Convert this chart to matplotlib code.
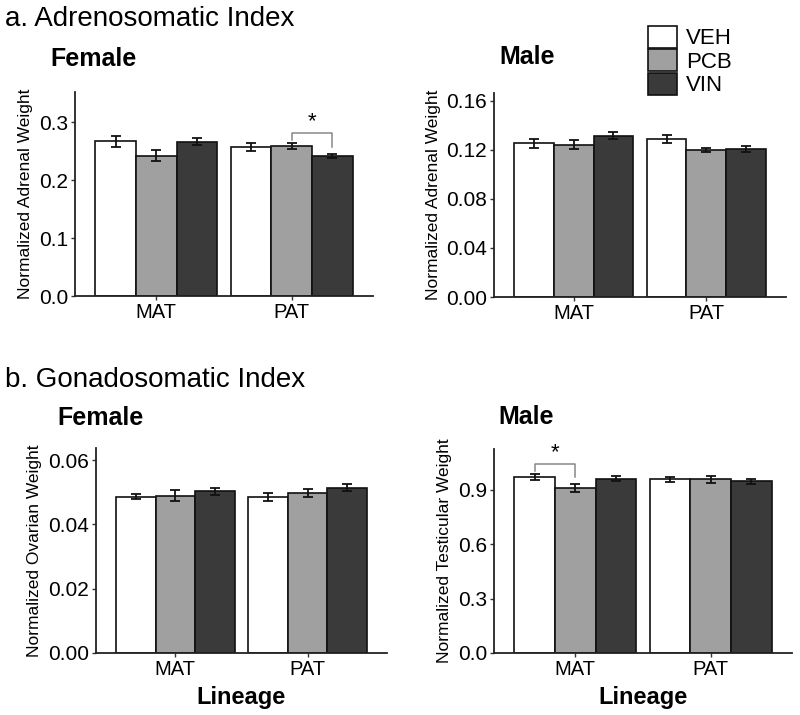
import matplotlib
matplotlib.use('Agg')
import matplotlib.pyplot as plt
import numpy as np

plt.rcParams['font.family'] = ['Liberation Sans', 'DejaVu Sans']

# данные
lineages = ['MAT', 'PAT']
treatments = ['VEH', 'PCB', 'VIN']
colors = ['#ffffff', '#a0a0a0', '#3a3a3a']

adrenal_female = [[0.267, 0.242, 0.266], [0.2575, 0.2586, 0.2414]]
adrenal_female_se = [[0.0095, 0.0095, 0.0058], [0.007, 0.005, 0.0037]]
adrenal_male = [[0.1253, 0.1244, 0.1315], [0.1288, 0.1198, 0.1206]]
adrenal_male_se = [[0.0034, 0.0034, 0.0029], [0.0033, 0.0018, 0.0024]]
ovarian = [[0.0487, 0.0490, 0.0503], [0.0486, 0.0497, 0.0515]]
ovarian_se = [[0.0008, 0.0017, 0.0012], [0.0012, 0.0012, 0.0011]]
testis = [[0.970, 0.909, 0.961], [0.957, 0.957, 0.946]]
testis_se = [[0.017, 0.021, 0.013], [0.013, 0.018, 0.015]]

fig = plt.figure(figsize=(8, 7.15), dpi=100)
W, H = 800, 715

def add_ax(l, r, b, t):
    return fig.add_axes([l / W, 1 - b / H, (r - l) / W, (b - t) / H])

def draw(ax, vals, ses, ymax, yticks, ylabel, sig=None, xlabel=False):
    vals = np.array(vals)
    ses = np.array(ses)
    xs = np.arange(1, len(lineages) + 1)
    w = 0.3
    for i, tr in enumerate(treatments):
        pos = xs + (i - 1) * w
        ax.bar(pos, vals[:, i], w, color=colors[i], edgecolor='#111111',
               linewidth=1.2, label=tr, zorder=2)
        ax.errorbar(pos, vals[:, i], yerr=ses[:, i], fmt='none', ecolor='#111111',
                    elinewidth=1.3, capsize=3.5, capthick=1.3, zorder=3)
    if sig is not None:  # скобка значимости
        g, a, b = sig
        xa = xs[g] + (a - 1) * w
        xb = xs[g] + (b - 1) * w
        ta = vals[g, a] + ses[g, a]
        tb = vals[g, b] + ses[g, b]
        top = max(ta, tb) + 0.05 * ymax
        ax.plot([xa, xa, xb, xb], [ta + 0.017 * ymax, top, top, tb + 0.035 * ymax],
                color='#888888', lw=1.1, zorder=4)
        ax.text((xa + xb) / 2, top + 0.005 * ymax, '*', ha='center', va='bottom',
                fontsize=16)
    ax.set_xlim(0.4, 2.6)
    ax.set_ylim(0, ymax)
    ax.set_xticks(xs)
    ax.set_xticklabels(lineages, fontsize=14.5)
    ax.set_yticks(yticks)
    ax.set_ylabel(ylabel, fontsize=12.5, labelpad=4)
    if xlabel:
        ax.set_xlabel('Lineage', fontsize=17, fontweight='bold', labelpad=5)
    for s in ['top', 'right']:
        ax.spines[s].set_visible(False)
    for s in ['left', 'bottom']:
        ax.spines[s].set_linewidth(1.3)
        ax.spines[s].set_color('#222222')
    ax.tick_params(length=3, width=1, color='#333333', pad=2)
    ax.tick_params(axis='y', labelsize=15)

ax1 = add_ax(75, 373, 296, 92)
draw(ax1, adrenal_female, adrenal_female_se, 0.352, [0, 0.1, 0.2, 0.3],
     'Normalized Adrenal Weight', sig=(1, 1, 2))
ax1.set_yticklabels(['0.0', '0.1', '0.2', '0.3'])

ax2 = add_ax(494, 786, 297, 93)
draw(ax2, adrenal_male, adrenal_male_se, 0.1665, [0, 0.04, 0.08, 0.12, 0.16],
     'Normalized Adrenal Weight')
ax2.set_yticklabels(['0.00', '0.04', '0.08', '0.12', '0.16'])

ax3 = add_ax(96, 387, 653, 448)
draw(ax3, ovarian, ovarian_se, 0.0638, [0, 0.02, 0.04, 0.06],
     'Normalized Ovarian Weight', xlabel=True)
ax3.set_yticklabels(['0.00', '0.02', '0.04', '0.06'])

ax4 = add_ax(494, 792, 653, 449)
draw(ax4, testis, testis_se, 1.125, [0, 0.3, 0.6, 0.9],
     'Normalized Testicular Weight', sig=(0, 0, 1), xlabel=True)
ax4.set_yticklabels(['0.0', '0.3', '0.6', '0.9'])

# заголовки
fig.text(5 / W, 1 - 19 / H, 'a. Adrenosomatic Index', fontsize=20, va='center')
fig.text(5 / W, 1 - 380 / H, 'b. Gonadosomatic Index', fontsize=20, va='center')
fig.text(50 / W, 1 - 59 / H, 'Female', fontsize=18, fontweight='bold', va='center')
fig.text(499 / W, 1 - 57 / H, 'Male', fontsize=18, fontweight='bold', va='center')
fig.text(57 / W, 1 - 418 / H, 'Female', fontsize=18, fontweight='bold', va='center')
fig.text(498 / W, 1 - 417 / H, 'Male', fontsize=18, fontweight='bold', va='center')

handles, labels = ax2.get_legend_handles_labels()
fig.legend(handles, labels, loc='upper left', bbox_to_anchor=(648 / W, 1 - 26 / H),
           frameon=False, fontsize=16, handlelength=1.3, handleheight=1.13,
           labelspacing=0, handletextpad=0.4, borderpad=0, borderaxespad=0)

fig.savefig('out.png', dpi=100)
